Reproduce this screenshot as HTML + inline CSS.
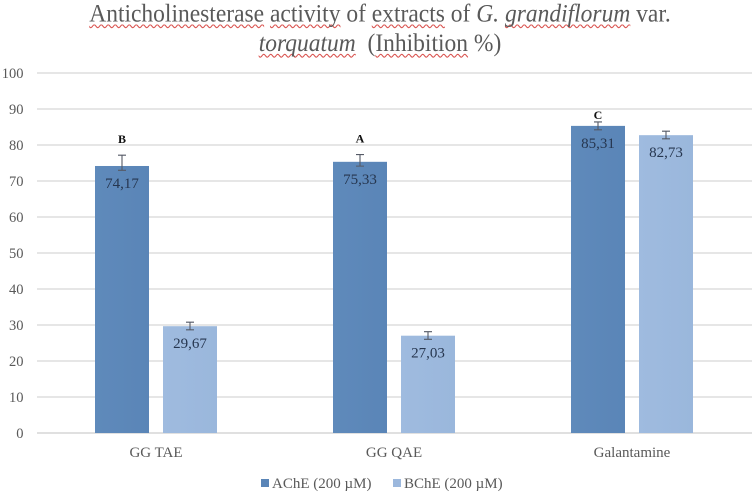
<!DOCTYPE html>
<html lang="en">
<head>
<meta charset="utf-8">
<title>Anticholinesterase activity</title>
<style>
html,body{margin:0;padding:0;background:#fff;}
#chart-root{position:relative;width:755px;height:494px;overflow:hidden;background:#fff;font-family:"Liberation Serif",serif;}
#chart-title{position:absolute;left:0;top:0;width:760px;text-align:center;font-size:23.5px;line-height:27px;color:#595959;white-space:nowrap;transform:scaleY(1.08);transform-origin:0 0;}
#chart-title .sp{text-decoration:underline wavy #d9534f 1px;text-underline-offset:2px;text-decoration-skip-ink:none;}
svg{position:absolute;left:0;top:0;}
</style>
</head>
<body>
<div id="chart-root">
  <div id="chart-title">
    <span class="sp">Anticholinesterase</span> <span class="sp">activity</span> of <span class="sp">extracts</span> of <i>G. <span class="sp">grandiflorum</span></i> var.<br>
    <i class="sp">torquatum</i>&nbsp; (<span class="sp">Inhibition</span> %)
  </div>
  <svg id="plot" width="755" height="494" viewBox="0 0 755 494" xmlns="http://www.w3.org/2000/svg">
    <defs>
      <linearGradient id="g-ache" x1="0" x2="1" y1="0" y2="0">
        <stop offset="0" stop-color="#5f8abb"/><stop offset="1" stop-color="#5a85b7"/>
      </linearGradient>
      <linearGradient id="g-bche" x1="0" x2="1" y1="0" y2="0">
        <stop offset="0" stop-color="#9fbbdf"/><stop offset="1" stop-color="#9ab7dc"/>
      </linearGradient>
    </defs>
  </svg>
</div>
<script>
const categories = ['GG TAE', 'GG QAE', 'Galantamine'];
const seriesNames = ['AChE (200 µM)', 'BChE (200 µM)'];
const acheValues = [74.17, 75.33, 85.31];
const bcheValues = [29.67, 27.03, 82.73];
const acheLabels = ['74,17', '75,33', '85,31'];
const bcheLabels = ['29,67', '27,03', '82,73'];
const acheErrUp = [3.0, 2.0, 1.1];
const acheErrDown = [1.2, 1.2, 1.1];
const bcheErrUp = [1.1, 1.1, 1.1];
const bcheErrDown = [1.0, 1.0, 1.0];
const significance = ['B', 'A', 'C'];
const yTicks = [0, 10, 20, 30, 40, 50, 60, 70, 80, 90, 100];

const svg = document.getElementById('plot');
const NS = 'http://www.w3.org/2000/svg';
const plotLeft = 37, plotRight = 752, plotTop = 73, plotBottom = 433, yMax = 100;
const y = v => plotBottom - (v / yMax) * (plotBottom - plotTop);
const band = (plotRight - 1 - plotLeft) / categories.length;
const xCenter = i => plotLeft + band * (i + 0.5);
const barW = 54, gap = 14;
const barX = (i, s) => xCenter(i) + (s === 0 ? -(gap / 2 + barW) : gap / 2);

function mk(tag, attrs, text) {
  const e = document.createElementNS(NS, tag);
  for (const k in attrs) e.setAttribute(k, attrs[k]);
  if (text !== undefined) e.textContent = text;
  svg.appendChild(e);
  return e;
}
const serif = '"Liberation Serif", serif';

yTicks.forEach(t => {
  const line = mk('line', {x1: plotLeft, x2: plotRight, y1: y(t), y2: y(t), stroke: t === 0 ? '#d6d6d6' : '#dedede', 'stroke-width': 1.6});
  
  
  const lab = mk('text', {x: 23.5, y: y(t) + 5, 'text-anchor': 'end', 'font-family': serif, 'font-size': 14.5, fill: '#595959'}, String(t));
  
  
});

function drawSeries(values, labels, up, down, s, fill, textColor) {
  values.forEach((v, i) => {
    const x = barX(i, s);
    const bar = mk('rect', {x: x, y: y(v), width: barW, height: plotBottom - y(v), fill: fill});
    
    
    const cx = x + barW / 2;
    const yt = y(v + up[i]), yb = y(v - down[i]);
    const err = mk('path', {d: 'M' + (cx - 4) + ' ' + yt + 'H' + (cx + 4) + 'M' + cx + ' ' + yt + 'V' + yb + 'M' + (cx - 4) + ' ' + yb + 'H' + (cx + 4), stroke: '#555a66', 'stroke-width': 1.1, fill: 'none'});
    
    
    const lab = mk('text', {x: cx, y: y(v) + 22, 'text-anchor': 'middle', 'font-family': serif, 'font-size': 15, fill: textColor}, labels[i]);
    
    
  });
}
drawSeries(acheValues, acheLabels, acheErrUp, acheErrDown, 0, 'url(#g-ache)', '#26364f');
drawSeries(bcheValues, bcheLabels, bcheErrUp, bcheErrDown, 1, 'url(#g-bche)', '#26364f');

significance.forEach((m, i) => {
  const cx = barX(i, 0) + barW / 2;
  const top = y(acheValues[i] + acheErrUp[i]);
  const t = mk('text', {x: cx, y: top - 12, 'text-anchor': 'middle', 'font-family': serif, 'font-size': 12, 'font-weight': 'bold', fill: '#111'}, m);
  if (i === 2) t.setAttribute('y', top - 3);
  
  
});

categories.forEach((c, i) => {
  const t = mk('text', {x: xCenter(i), y: 457, 'text-anchor': 'middle', 'font-family': serif, 'font-size': 15, fill: '#595959'}, c);
  
  
});

const legendX = [261, 393];
const legendFill = ['#5a85b7', '#9cb8dd'];
seriesNames.forEach((n, i) => {
  const sw = mk('rect', {x: legendX[i], y: 479, width: 8, height: 8, fill: legendFill[i]});
  
  
  const t = mk('text', {x: legendX[i] + 11, y: 488, 'font-family': serif, 'font-size': 15, fill: '#595959'}, n);
  
  
});
</script>
</body>
</html>
